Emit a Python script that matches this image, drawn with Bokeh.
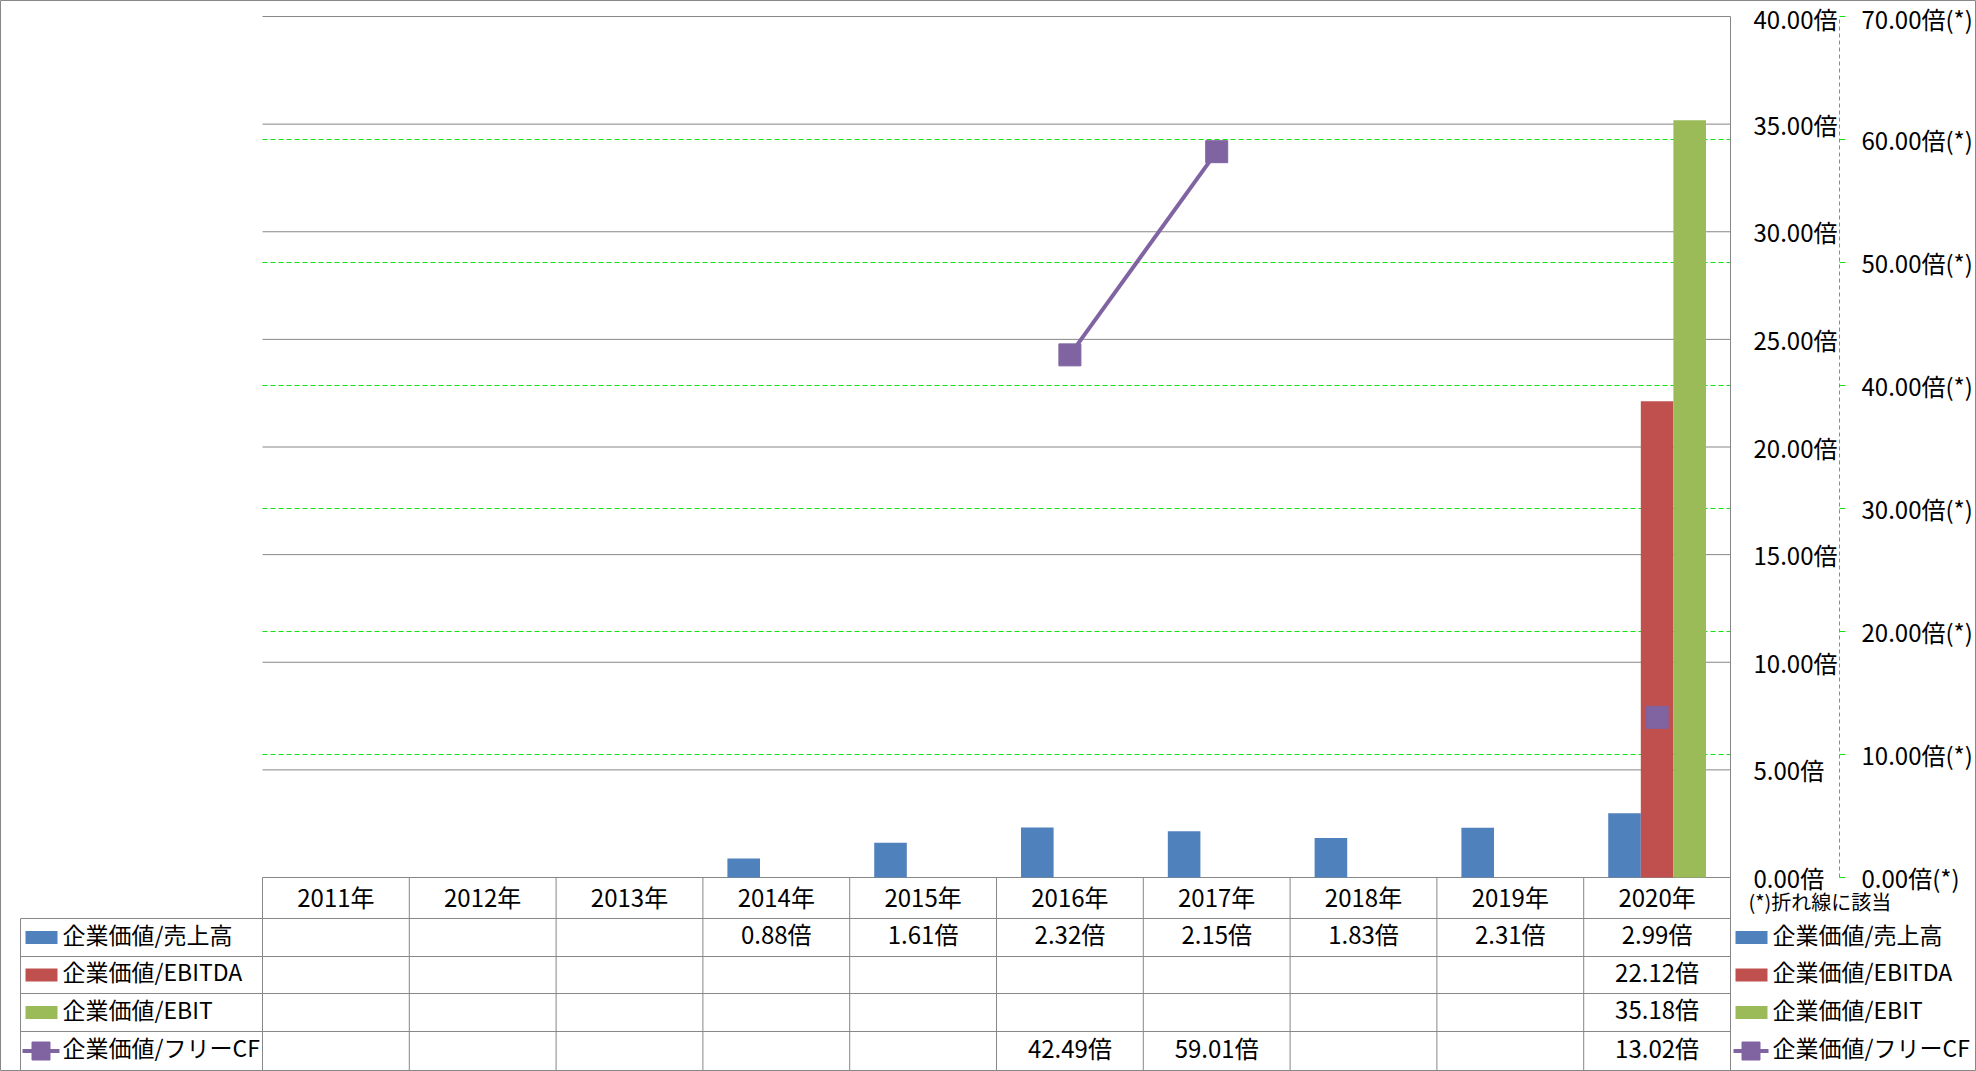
import numpy as np
from bokeh.plotting import figure
from bokeh.models import (Range1d, LinearAxis, FixedTicker, PrintfTickFormatter,
                          ColumnDataSource)
from bokeh.core.properties import value
from bokeh.embed import file_html
from bokeh.resources import INLINE

nan = np.nan

# ---------------- data ----------------
years = ["2011年", "2012年", "2013年", "2014年", "2015年",
         "2016年", "2017年", "2018年", "2019年", "2020年"]
ev_sales = [nan, nan, nan, 0.88, 1.61, 2.32, 2.15, 1.83, 2.31, 2.99]
ev_ebitda = [nan, nan, nan, nan, nan, nan, nan, nan, nan, 22.12]
ev_ebit = [nan, nan, nan, nan, nan, nan, nan, nan, nan, 35.18]
ev_fcf = [nan, nan, nan, nan, nan, 42.49, 59.01, nan, nan, 13.02]
series_names = ["企業価値/売上高", "企業価値/EBITDA", "企業価値/EBIT", "企業価値/フリーCF"]
left_ticks = [0, 5, 10, 15, 20, 25, 30, 35, 40]
right_ticks = [0, 10, 20, 30, 40, 50, 60, 70]
right_grid = [10, 20, 30, 40, 50, 60]
note_text = "(*)折れ線に該当"

# ---------------- style / layout ----------------
W, H = 1976, 1071
PL, PR, PT, PB = 262, 1730, 16, 877
ROW_LINES = [877, 918, 956, 993, 1031, 1070]
TABLE_L = 20
SEC_AXIS_PX = 1839
LEFT_MAX, RIGHT_MAX = 40.0, 70.0
BLUE, RED, GREEN, PURPLE = "#4F81BD", "#C0504D", "#9BBB59", "#8064A2"
GRAY = "#878787"
LIME = "#11E011"
FONT = "Noto Sans CJK JP"
FS = "24px"
LEG_FS = "23px"
TEXT_DY = -4
BAR_W = 0.222

n = len(years)
cw = (PR - PL) / n
ppu = (PB - PT) / LEFT_MAX


def X(px):
    return (px - PL) / cw - 0.5


def Y(py):
    return (PB - py) / ppu


sec_scale = RIGHT_MAX / LEFT_MAX

p = figure(width=W, height=H, output_backend="svg", toolbar_location=None, tools="",
           x_range=Range1d(X(0), X(W)), y_range=Range1d(Y(H), Y(0)),
           x_axis_location=None, y_axis_location=None,
           min_border=0, min_border_left=0, min_border_right=0,
           min_border_top=0, min_border_bottom=0)
p.extra_y_ranges = {"sec": Range1d(Y(H) * sec_scale, Y(0) * sec_scale)}
p.xgrid.visible = False
p.ygrid.visible = False
p.background_fill_color = "white"
p.border_fill_color = "white"
p.outline_line_color = GRAY
p.outline_line_width = 1

xc = np.arange(n, dtype=float)

# ---------------- gridlines ----------------
p.segment(x0=[X(PL)] * len(left_ticks), x1=[X(PR)] * len(left_ticks),
          y0=left_ticks, y1=left_ticks, line_color=GRAY, line_width=1)
p.segment(x0=[X(PL)] * len(right_grid), x1=[X(PR)] * len(right_grid),
          y0=right_grid, y1=right_grid, line_color=LIME, line_width=1,
          line_dash="5 3", y_range_name="sec")

# ---------------- table lines ----------------
hx0, hx1, hy = [], [], []
for r in ROW_LINES[1:]:
    hx0.append(X(TABLE_L)); hx1.append(X(PR)); hy.append(Y(r))
p.segment(x0=hx0, x1=hx1, y0=hy, y1=hy, line_color=GRAY, line_width=1)
vx, vy0, vy1 = [X(TABLE_L)], [Y(ROW_LINES[1])], [Y(ROW_LINES[-1])]
for k in range(0, n):
    vx.append(X(PL + k * cw)); vy0.append(Y(ROW_LINES[0])); vy1.append(Y(ROW_LINES[-1]))
p.segment(x0=vx, x1=vx, y0=vy0, y1=vy1, line_color=GRAY, line_width=1)

# ---------------- bars ----------------
src = ColumnDataSource(dict(x=xc, sales=np.array(ev_sales), ebitda=np.array(ev_ebitda),
                            ebit=np.array(ev_ebit), fcf=np.array(ev_fcf),
                            xs=xc - BAR_W, xe=xc + BAR_W))
p.vbar(x="xs", top="sales", bottom=0, width=BAR_W, source=src,
       fill_color=BLUE, line_color=None)
p.vbar(x="x", top="ebitda", bottom=0, width=BAR_W, source=src,
       fill_color=RED, line_color=None)
p.vbar(x="xe", top="ebit", bottom=0, width=BAR_W, source=src,
       fill_color=GREEN, line_color=None)

# ---------------- line (secondary axis) ----------------
p.line(x="x", y="fcf", source=src, line_color=PURPLE, line_width=4, y_range_name="sec")
p.scatter(x="x", y="fcf", source=src, marker="square", size=22, fill_color=PURPLE,
          line_color=PURPLE, line_width=1, y_range_name="sec")

# ---------------- axes ----------------
ax1 = LinearAxis(fixed_location=X(PR), ticker=FixedTicker(ticks=left_ticks),
                 formatter=PrintfTickFormatter(format="%.2f倍"),
                 bounds=(Y(ROW_LINES[-1]), LEFT_MAX))
ax1.axis_line_color = GRAY
ax1.axis_line_width = 1
ax1.major_tick_out = 0
ax1.major_tick_in = 0
ax1.minor_tick_out = 0
ax1.minor_tick_in = 0
ax1.major_tick_line_color = None
ax1.minor_tick_line_color = None
ax1.major_label_standoff = 23
ax1.major_label_text_font = FONT
ax1.major_label_text_font_size = FS
ax1.major_label_text_color = "black"
p.add_layout(ax1, "right")

ax2 = LinearAxis(y_range_name="sec", fixed_location=X(SEC_AXIS_PX),
                 ticker=FixedTicker(ticks=right_ticks),
                 formatter=PrintfTickFormatter(format="%.2f倍(*)"),
                 bounds=(0, RIGHT_MAX))
ax2.axis_line_color = LIME
ax2.axis_line_dash = "4 3"
ax2.axis_line_width = 1
ax2.major_tick_out = 6
ax2.major_tick_in = 0
ax2.major_tick_line_color = LIME
ax2.minor_tick_line_color = None
ax2.major_label_standoff = 16
ax2.major_label_text_font = FONT
ax2.major_label_text_font_size = FS
ax2.major_label_text_color = "black"
p.add_layout(ax2, "right")

ax3 = LinearAxis(fixed_location=0, ticker=FixedTicker(ticks=list(range(n))),
                 major_label_overrides={i: years[i] for i in range(n)})
ax3.axis_line_color = None
ax3.major_tick_out = 0
ax3.major_tick_in = 0
ax3.major_tick_line_color = None
ax3.minor_tick_line_color = None
ax3.major_label_standoff = 1
ax3.major_label_text_font = FONT
ax3.major_label_text_font_size = FS
ax3.major_label_text_color = "black"
p.add_layout(ax3, "below")

# ---------------- table values ----------------
row_centers = [(ROW_LINES[i] + ROW_LINES[i + 1]) / 2 for i in range(1, 5)]
tx, ty, tt = [], [], []
for r, series in enumerate([ev_sales, ev_ebitda, ev_ebit, ev_fcf]):
    for i, v in enumerate(series):
        if not np.isnan(v):
            tx.append(float(i)); ty.append(Y(row_centers[r] + TEXT_DY)); tt.append(f"{v:.2f}倍")
p.text(x=tx, y=ty, text=tt, text_font=value(FONT), text_font_size=value(FS),
       text_align="center", text_baseline="middle", text_color="black")

# ---------------- legends (table left column + right side) ----------------
colors = [BLUE, RED, GREEN]
for sw_c, txt_l, ln0, ln1 in [(41, 62, 22, 59), (1751, 1772, 1733, 1768)]:
    ys = [Y(c) for c in row_centers]
    yt = [Y(c + TEXT_DY) for c in row_centers]
    p.rect(x=[X(sw_c)] * 3, y=ys[:3], width=32, height=13, width_units="screen",
           height_units="screen", fill_color=colors, line_color=None)
    p.segment(x0=[X(ln0)], x1=[X(ln1)], y0=[ys[3]], y1=[ys[3]],
              line_color=PURPLE, line_width=4)
    p.scatter(x=[X((ln0 + ln1) / 2)], y=[ys[3]], marker="square", size=18,
              fill_color=PURPLE, line_color=PURPLE)
    p.text(x=[X(txt_l)] * 4, y=yt, text=series_names, text_font=value(FONT),
           text_font_size=value(LEG_FS), text_align="left", text_baseline="middle",
           text_color="black")

p.text(x=[X(1748)], y=[Y(905 + TEXT_DY)], text=[note_text], text_font=value(FONT),
       text_font_size=value("20px"), text_align="left", text_baseline="middle",
       text_color="black")

open("out.html", "w").write(file_html(p, INLINE))
